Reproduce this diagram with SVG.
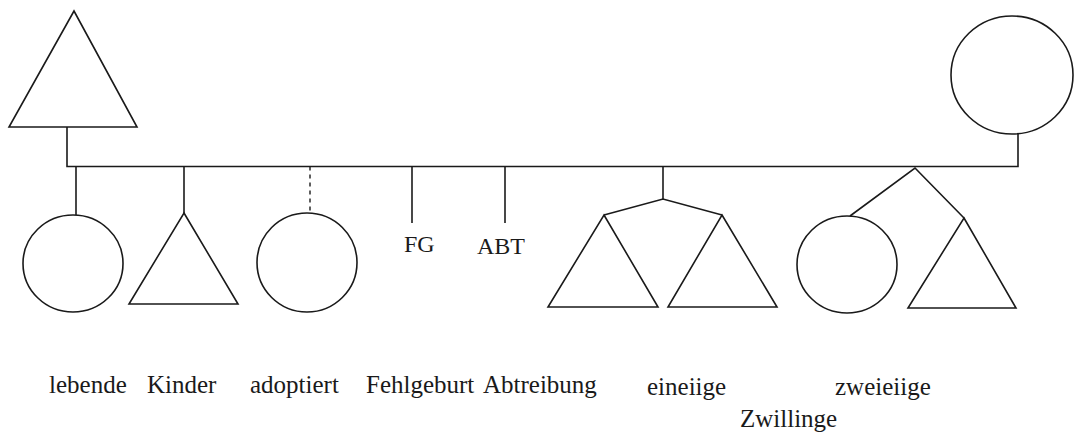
<svg xmlns="http://www.w3.org/2000/svg" width="1074" height="434" viewBox="0 0 1074 434">
<style>
.s{fill:none;stroke:#1a1a1a;stroke-width:1.6;stroke-linejoin:miter}
.c{fill:none;stroke:#1a1a1a;stroke-width:1.6}
.d{fill:none;stroke:#1a1a1a;stroke-width:1.4;stroke-dasharray:4 4}
text{font-family:"Liberation Serif","Times New Roman",serif;font-size:25px;fill:#1a1a1a}
.sm{font-size:24px}
</style>
<rect width="1074" height="434" fill="#fff"/>
<g id="connectors">
<polyline class="s" points="67,127 67,166.5 1018,166.5 1018,134"/>
<line class="s" x1="76" y1="166.5" x2="76" y2="215"/>
<line class="s" x1="184" y1="166.5" x2="184" y2="213"/>
<line class="d" x1="310" y1="166.5" x2="310" y2="213"/>
<line class="s" x1="412" y1="166.5" x2="412" y2="223"/>
<line class="s" x1="505" y1="166.5" x2="505" y2="223"/>
<polyline class="s" points="604,215 663,199 722,215"/>
<line class="s" x1="663" y1="166.5" x2="663" y2="199"/>
<polyline class="s" points="850,216 915,168 964,218"/>
</g>
<g id="father"><polygon class="s" points="74,11 137,127 9,127"/></g>
<g id="mother"><ellipse class="c" cx="1012" cy="75" rx="61" ry="59"/></g>
<g id="child-living-female"><ellipse class="c" cx="73" cy="263.5" rx="50" ry="48.5"/></g>
<g id="child-male"><polygon class="s" points="184,213 238,304 129,304"/></g>
<g id="child-adopted"><ellipse class="c" cx="307" cy="262.5" rx="50" ry="49.5"/></g>
<g id="miscarriage"><text class="sm" x="404" y="252">FG</text></g>
<g id="abortion"><text class="sm" x="477" y="254">ABT</text></g>
<g id="twin-mono-1"><polygon class="s" points="604,215 658,307 548,307"/></g>
<g id="twin-mono-2"><polygon class="s" points="722,215 777,307 668,307"/></g>
<g id="twin-di-female"><ellipse class="c" cx="847" cy="264.5" rx="50" ry="48.5"/></g>
<g id="twin-di-male"><polygon class="s" points="964,218 1016,308 908,308"/></g>
<g id="labels">
<text x="49" y="393">lebende</text>
<text x="147" y="393">Kinder</text>
<text x="250" y="393">adoptiert</text>
<text x="366" y="393">Fehlgeburt</text>
<text x="483" y="393">Abtreibung</text>
<text x="647" y="395">eineiige</text>
<text x="835" y="395">zweieiige</text>
<text x="740" y="427">Zwillinge</text>
</g>
</svg>
